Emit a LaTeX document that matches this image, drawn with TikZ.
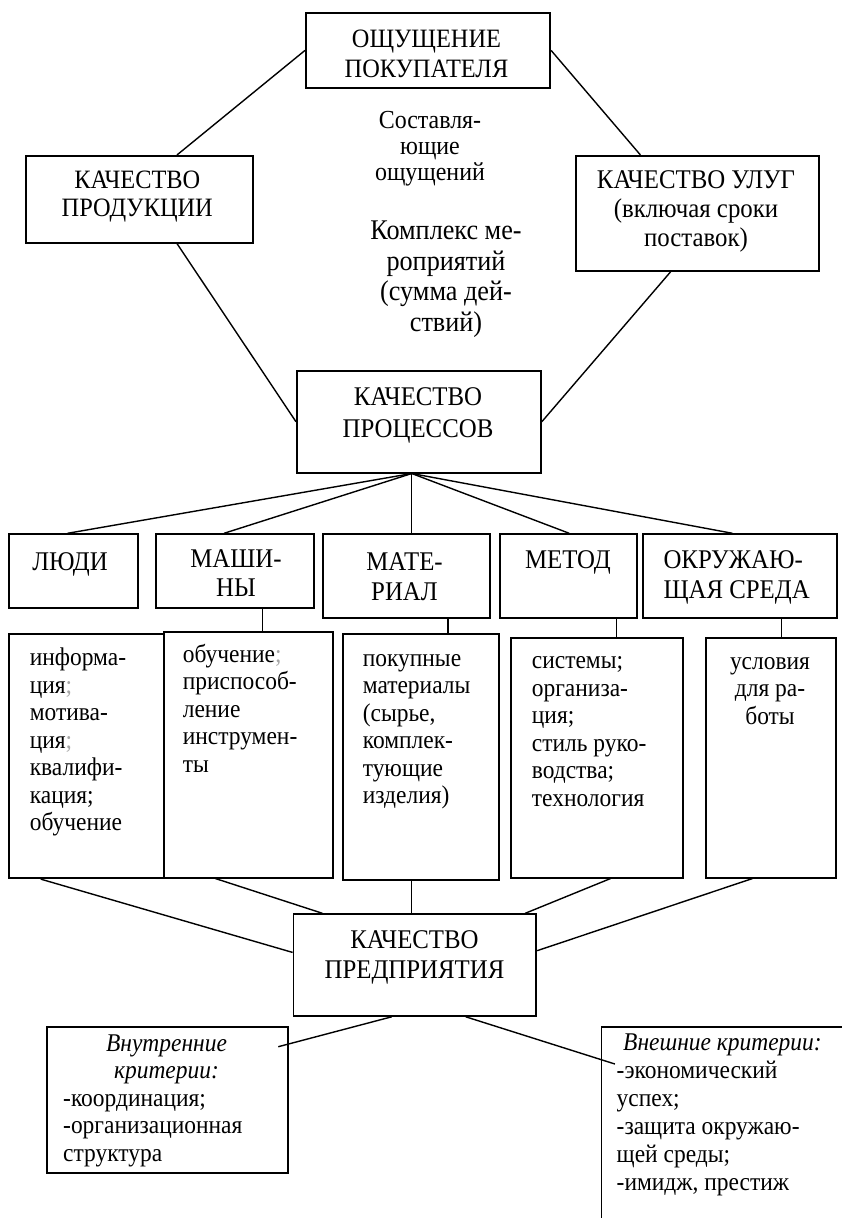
\documentclass[tikz,border=0pt]{standalone}
\usepackage{fontspec}
\setmainfont[FakeStretch=0.92]{Liberation Serif}
\usetikzlibrary{calc}
\newcommand{\detsize}{\fontsize{25.5}{27.5}\selectfont}
\newcommand{\faint}[1]{\textcolor{black!35}{#1}}
\begin{document}
\begin{tikzpicture}[x=1pt,y=-1pt,
  box/.style={draw,line width=1.8pt,inner sep=0pt,anchor=north west},
  link/.style={line width=1.4pt},
  capt/.style={font=\fontsize{27}{30}\selectfont,align=center,anchor=base,inner sep=0pt},
  dett/.style={font=\detsize,align=left,anchor=base west,inner sep=0pt},
  detc/.style={font=\detsize,align=center,anchor=base,inner sep=0pt}]
\useasboundingbox (0,0) rectangle (842,1218);
\clip (0,0) rectangle (842,1218);

% ---- boxes (placed by their upper left corner) ----
\node[box,minimum width=244.3pt,minimum height=75.6pt] (cust) at (305,11.7) {};
\node[box,minimum width=226.7pt,minimum height=86.7pt] (prod) at (25,155) {};
\node[box,minimum width=243.3pt,minimum height=115pt] (serv) at (575,155) {};
\node[box,minimum width=244pt,minimum height=101.7pt] (proc) at (296,370) {};

\node[box,minimum width=129pt,minimum height=74pt] (ppl) at (8.3,533.3) {};
\node[box,minimum width=158.3pt,minimum height=74pt] (mach) at (155,533.3) {};
\node[box,minimum width=167pt,minimum height=83.4pt] (matr) at (322.3,533.3) {};
\node[box,minimum width=136.7pt,minimum height=83.4pt] (meth) at (499.3,533.3) {};
\node[box,minimum width=194.3pt,minimum height=83.4pt] (env) at (641.7,533.3) {};

\node[box,minimum width=154.7pt,minimum height=244.6pt] (dppl) at (8,632.7) {};
\node[box,minimum width=169.2pt,minimum height=246pt] (dmach) at (162.7,630.7) {};
\node[box,minimum width=156.3pt,minimum height=246pt] (dmatr) at (342.1,632.7) {};
\node[box,minimum width=171.9pt,minimum height=240pt] (dmeth) at (510.2,636.7) {};
\node[box,minimum width=130pt,minimum height=240pt] (denv) at (705.2,636.7) {};

\node[box,minimum width=242.8pt,minimum height=101.7pt] (ent) at (292.6,913.3) {};
\node[box,minimum width=241.6pt,minimum height=146pt] (inner) at (45.7,1025.7) {};
\node[box,minimum width=260pt,minimum height=230pt] (outer) at (600.5,1026) {};

% ---- texts (anchored at the baseline of their last line) ----
\node[capt,font=\fontsize{26.5}{30}\selectfont] at (426.5,77) {ОЩУЩЕНИЕ\\ПОКУПАТЕЛЯ};
\node[capt,font=\fontsize{26.5}{28}\selectfont] at (137.3,216.5) {КАЧЕСТВО\\ПРОДУКЦИИ};
\node[capt,font=\fontsize{27}{29}\selectfont] at (696,246.5) {КАЧЕСТВО УЛУГ\\(включая сроки\\поставок)};
\node[detc,font=\fontsize{26}{26}\selectfont] at (430,180.5) {Составля-\\ющие\\ощущений};
\node[detc,font=\fontsize{28.5}{30.5}\selectfont] at (446,331) {Комплекс ме-\\роприятий\\(сумма дей-\\ствий)};
\node[capt,font=\fontsize{27}{32}\selectfont] at (418,437) {КАЧЕСТВО\\ПРОЦЕССОВ};

\node[capt] at (70,570) {ЛЮДИ};
\node[capt,font=\fontsize{27}{29}\selectfont] at (236,596) {МАШИ-\\НЫ};
\node[capt] at (404.5,600) {МАТЕ-\\РИАЛ};
\node[capt] at (568,568.3) {МЕТОД};
\node[capt,align=left,anchor=base west] at (663.3,598.3) {ОКРУЖАЮ-\\ЩАЯ СРЕДА};

\node[dett] at (29.6,830.5) {информа-\\ция\faint{;}\\мотива-\\ция\faint{;}\\квалифи-\\кация;\\обучение};
\node[dett] at (182.6,772) {обучение\faint{;}\\приспособ-\\ление\\инструмен-\\ты};
\node[dett] at (362.6,803.5) {покупные\\материалы\\(сырье,\\комплек-\\тующие\\изделия)};
\node[dett] at (531.7,806) {системы;\\организа-\\ция;\\стиль руко-\\водства;\\технология};
\node[detc] at (770,724) {условия\\для ра-\\боты};

\node[capt] at (414.5,978.5) {КАЧЕСТВО\\ПРЕДПРИЯТИЯ};

\node[detc,font=\fontsize{25.5}{26.6}\selectfont\itshape] at (166.5,1078.3) {Внутренние\\критерии:};
\node[dett,font=\fontsize{25.5}{27.8}\selectfont] at (63,1161.7) {-координация;\\-организационная\\структура};
\node[dett,font=\detsize\itshape] at (623,1050.5) {Внешние критерии:};
\node[dett,font=\fontsize{25.5}{28.1}\selectfont] at (616.5,1190.5) {-экономический\\успех;\\-защита окружаю-\\щей среды;\\-имидж, престиж};

% ---- connectors ----
\draw[link] (cust.west) -- ($(prod.north west)!0.665!(prod.north east)$);
\draw[link] (cust.east) -- ($(serv.north west)!0.267!(serv.north east)$);
\draw[link] ($(prod.south west)!0.665!(prod.south east)$) -- (proc.west);
\draw[link] ($(serv.south west)!0.39!(serv.south east)$) -- (proc.east);

\coordinate (apex) at ($(proc.south west)!0.471!(proc.south east)$);
\draw[link] (apex) -- ($(ppl.north west)!0.453!(ppl.north east)$);
\draw[link] (apex) -- ($(mach.north west)!0.431!(mach.north east)$);
\draw[link] (apex) -- (apex |- matr.north);
\draw[link] (apex) -- ($(meth.north west)!0.505!(meth.north east)$);
\draw[link] (apex) -- ($(env.north west)!0.463!(env.north east)$);

\coordinate (machfoot) at ($(mach.south west)!0.67!(mach.south east)$);
\draw[link] (machfoot) -- (machfoot |- dmach.north);
\coordinate (matrfoot) at ($(matr.south west)!0.745!(matr.south east)$);
\draw[link] (matrfoot) -- (matrfoot |- dmatr.north);
\coordinate (methfoot) at ($(meth.south west)!0.846!(meth.south east)$);
\draw[link] (methfoot) -- (methfoot |- dmeth.north);
\coordinate (envfoot) at ($(env.south west)!0.712!(env.south east)$);
\draw[link] (envfoot) -- (envfoot |- denv.north);

\draw[link] ($(dppl.south west)!0.209!(dppl.south east)$) -- ($(ent.north west)!0.378!(ent.south west)$);
\draw[link] ($(dmach.south west)!0.308!(dmach.south east)$) -- ($(ent.north west)!0.122!(ent.north east)$);
\coordinate (entmid) at ($(ent.north west)!0.487!(ent.north east)$);
\draw[link] (entmid) -- (entmid |- dmatr.south);
\draw[link] ($(dmeth.south west)!0.578!(dmeth.south east)$) -- ($(ent.north west)!0.951!(ent.north east)$);
\draw[link] ($(denv.south west)!0.359!(denv.south east)$) -- ($(ent.north east)!0.361!(ent.south east)$);

\coordinate (innerend) at (278.3,1046.7);
\coordinate (outerend) at (614.9,1064);
\draw[link] ($(ent.south west)!0.405!(ent.south east)$) -- (innerend);
\draw[link] ($(ent.south west)!0.708!(ent.south east)$) -- (outerend);
\end{tikzpicture}
\end{document}
